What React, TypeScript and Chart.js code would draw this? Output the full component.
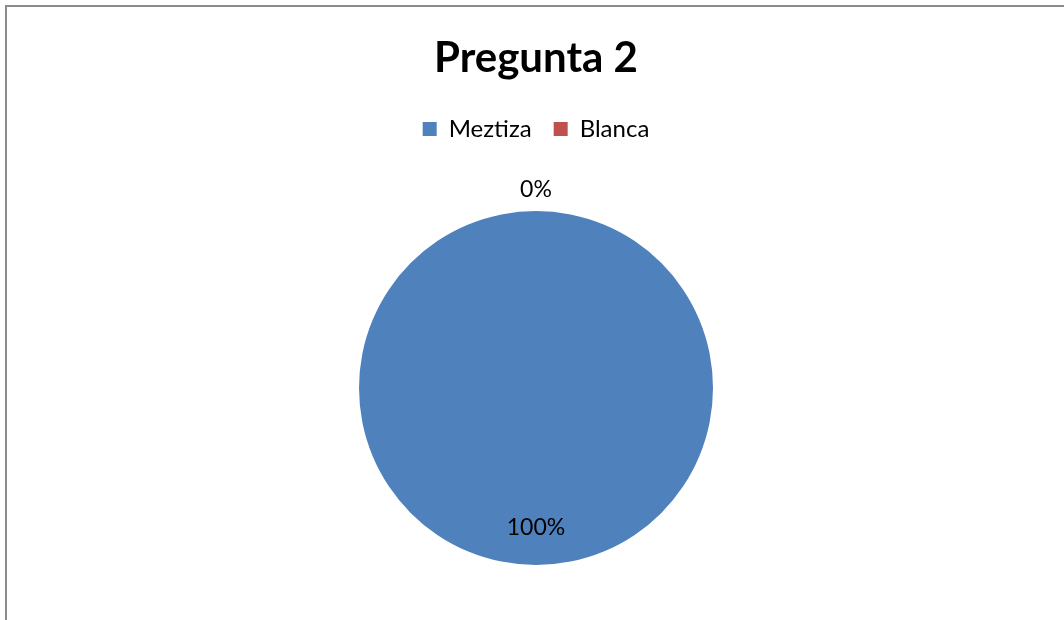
import React, { useEffect, useRef } from "react";
import { Chart, registerables } from "chart.js";

Chart.register(...registerables);

const TITLE = "Pregunta 2";
const categories = ["Meztiza", "Blanca"];
const values = [100, 0];
const colors = ["#4F81BD", "#C0504D"];

const FONT = "Lato, 'Open Sans', sans-serif";

const legendSpacer = {
  id: "legendSpacer",
  beforeInit(chart: any) {
    const legend = chart.legend;
    if (!legend) return;
    const orig = legend.fit;
    legend.fit = function () {
      orig.call(this);
      this.height += 60;
    };
  },
};

const pieLabels = {
  id: "pieLabels",
  afterDatasetsDraw(chart: any) {
    const ctx = chart.ctx;
    const meta = chart.getDatasetMeta(0);
    const data = chart.data.datasets[0].data as number[];
    const total = data.reduce((a, b) => a + b, 0);
    ctx.save();
    ctx.font = `23px ${FONT}`;
    ctx.fillStyle = "#000";
    ctx.textAlign = "center";
    ctx.textBaseline = "middle";
    meta.data.forEach((arc: any, i: number) => {
      const p = arc.getProps(["x", "y", "startAngle", "endAngle", "outerRadius"], true);
      const mid = (p.startAngle + p.endAngle) / 2;
      const v = data[i];
      const r = v === 0 ? p.outerRadius + 21 : p.outerRadius * 0.79;
      const x = p.x + Math.cos(mid) * r;
      const y = p.y + Math.sin(mid) * r;
      ctx.fillText(Math.round((v / total) * 100) + "%", x, y);
    });
    ctx.restore();
  },
};

export default function App() {
  const ref = useRef<HTMLCanvasElement>(null);
  useEffect(() => {
    const chart = new Chart(ref.current!, {
      type: "pie",
      data: {
        labels: categories,
        datasets: [
          {
            data: values,
            backgroundColor: colors,
            borderWidth: 0,
          },
        ],
      },
      options: {
        animation: false,
        responsive: false,
        maintainAspectRatio: false,
        layout: { padding: { top: 0, bottom: 55, left: 8, right: 0 } },
        plugins: {
          title: {
            display: true,
            text: TITLE,
            color: "#000",
            font: { family: FONT, size: 42, weight: "bold" },
            padding: { top: 33, bottom: 11.6 },
          },
          legend: {
            display: true,
            position: "top",
            labels: {
              color: "#000",
              font: { family: FONT, size: 24 },
              boxWidth: 14,
              boxHeight: 14,
              padding: 22,
            },
          },
          tooltip: { enabled: false },
        },
      },
      plugins: [legendSpacer, pieLabels],
    });
    return () => chart.destroy();
  }, []);
  return (
    <div>
      <div
        style={{
          position: "fixed",
          left: 5,
          top: 5,
          width: 1200,
          height: 800,
          border: "2px solid #8c8c8c",
          boxSizing: "border-box",
        }}
      />
      <canvas
        ref={ref}
        width={1064}
        height={620}
        style={{ position: "fixed", left: 0, top: 0, width: 1064, height: 620 }}
      />
    </div>
  );
}
